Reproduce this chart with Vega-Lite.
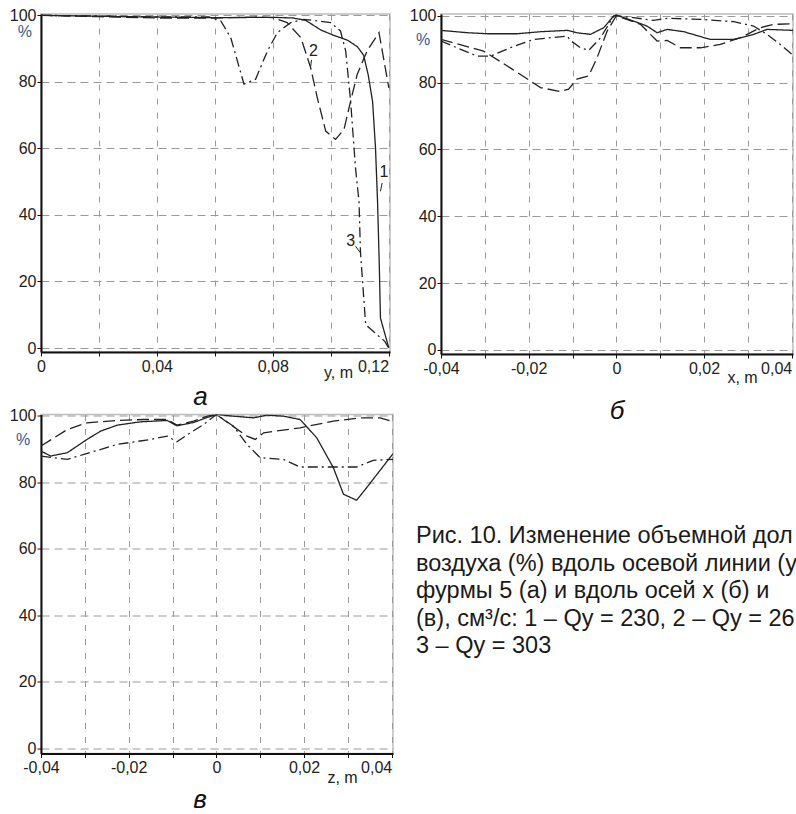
{
 "$schema": "https://vega.github.io/schema/vega-lite/v6.json",
 "padding": {"left": 8, "top": 6, "right": 0, "bottom": 0},
 "background": "white",
 "columns": 2,
 "bounds": "flush",
 "spacing": {"row": 60.5, "column": 48},
 "datasets": {
  "a": [
   {"s":"1","x":0,"v":100},{"s":"1","x":0.02,"v":99.7},{"s":"1","x":0.04,"v":99.5},{"s":"1","x":0.06,"v":99.3},{"s":"1","x":0.08,"v":99.4},{"s":"1","x":0.087,"v":99.2},{"s":"1","x":0.0914,"v":98.5},{"s":"1","x":0.0966,"v":95.6},{"s":"1","x":0.101,"v":94},{"s":"1","x":0.1059,"v":92.5},{"s":"1","x":0.1093,"v":90.5},{"s":"1","x":0.1114,"v":88},{"s":"1","x":0.113,"v":82},{"s":"1","x":0.1145,"v":74},{"s":"1","x":0.1155,"v":60},{"s":"1","x":0.1162,"v":44},{"s":"1","x":0.1168,"v":25},{"s":"1","x":0.1172,"v":9},{"s":"1","x":0.1201,"v":0},
   {"s":"2","x":0,"v":100},{"s":"2","x":0.02,"v":99.6},{"s":"2","x":0.04,"v":99.2},{"s":"2","x":0.06,"v":99.2},{"s":"2","x":0.075,"v":99.5},{"s":"2","x":0.08,"v":99.3},{"s":"2","x":0.085,"v":97.8},{"s":"2","x":0.0897,"v":93.3},{"s":"2","x":0.0931,"v":84.3},{"s":"2","x":0.0954,"v":75.2},{"s":"2","x":0.0983,"v":65.2},{"s":"2","x":0.1017,"v":62.7},{"s":"2","x":0.1046,"v":65.7},{"s":"2","x":0.1069,"v":74.2},{"s":"2","x":0.1092,"v":82.3},{"s":"2","x":0.1126,"v":89.3},{"s":"2","x":0.1167,"v":94.8},{"s":"2","x":0.1201,"v":78.2},
   {"s":"3","x":0,"v":100},{"s":"3","x":0.02,"v":99.8},{"s":"3","x":0.04,"v":99.5},{"s":"3","x":0.058,"v":99.5},{"s":"3","x":0.0621,"v":98.3},{"s":"3","x":0.0655,"v":93.3},{"s":"3","x":0.0678,"v":86.3},{"s":"3","x":0.0701,"v":79.3},{"s":"3","x":0.0741,"v":80.8},{"s":"3","x":0.0782,"v":89.3},{"s":"3","x":0.0816,"v":94.8},{"s":"3","x":0.0862,"v":97.8},{"s":"3","x":0.0908,"v":98.8},{"s":"3","x":0.1,"v":97.8},{"s":"3","x":0.1034,"v":95.3},{"s":"3","x":0.1052,"v":89.3},{"s":"3","x":0.1069,"v":74.2},{"s":"3","x":0.1086,"v":54},{"s":"3","x":0.1098,"v":44},{"s":"3","x":0.1103,"v":29},{"s":"3","x":0.1121,"v":7},{"s":"3","x":0.1155,"v":4.4},{"s":"3","x":0.1187,"v":2},{"s":"3","x":0.1201,"v":0}
  ],
  "aLabels": [
   {"x":0.0941,"v":89.3,"t":"2"},{"x":0.1184,"v":52.9,"t":"1"},{"x":0.1069,"v":32.1,"t":"3"}
  ],
  "aLeaders": [
   {"x":0.0934,"v":86.6,"x2":0.0931,"v2":84.6},{"x":0.1178,"v":49.6,"x2":0.1172,"v2":47.1},{"x":0.1086,"v":30.6,"x2":0.1103,"v2":28.6}
  ],
  "b": [
   {"s":"1","x":-0.04,"v":95.6},{"s":"1","x":-0.034,"v":94.9},{"s":"1","x":-0.0295,"v":94.6},{"s":"1","x":-0.0226,"v":94.6},{"s":"1","x":-0.0173,"v":95.2},{"s":"1","x":-0.0112,"v":95.6},{"s":"1","x":-0.009,"v":94.9},{"s":"1","x":-0.0059,"v":94.4},{"s":"1","x":-0.0029,"v":96.4},{"s":"1","x":-0.0006,"v":99.9},{"s":"1","x":0,"v":100.2},{"s":"1","x":0.0039,"v":98.4},{"s":"1","x":0.007,"v":96.9},{"s":"1","x":0.0093,"v":94.9},{"s":"1","x":0.0116,"v":95.9},{"s":"1","x":0.0154,"v":95.2},{"s":"1","x":0.0214,"v":92.9},{"s":"1","x":0.0268,"v":92.9},{"s":"1","x":0.0313,"v":94.4},{"s":"1","x":0.0344,"v":95.9},{"s":"1","x":0.0403,"v":95.6},
   {"s":"2","x":-0.04,"v":92.9},{"s":"2","x":-0.0303,"v":89.4},{"s":"2","x":-0.0242,"v":84.4},{"s":"2","x":-0.0173,"v":78.5},{"s":"2","x":-0.0128,"v":77.3},{"s":"2","x":-0.0109,"v":78},{"s":"2","x":-0.009,"v":81},{"s":"2","x":-0.0063,"v":82},{"s":"2","x":-0.0044,"v":87.4},{"s":"2","x":-0.0021,"v":95.4},{"s":"2","x":0,"v":100},{"s":"2","x":0.0055,"v":97.4},{"s":"2","x":0.0093,"v":92.4},{"s":"2","x":0.0116,"v":92.6},{"s":"2","x":0.0146,"v":90.4},{"s":"2","x":0.0192,"v":90.4},{"s":"2","x":0.0237,"v":91.4},{"s":"2","x":0.0283,"v":93.4},{"s":"2","x":0.0328,"v":96.4},{"s":"2","x":0.0359,"v":97.4},{"s":"2","x":0.0403,"v":97.6},
   {"s":"3","x":-0.04,"v":92.4},{"s":"3","x":-0.0318,"v":87.9},{"s":"3","x":-0.0287,"v":87.9},{"s":"3","x":-0.0242,"v":90.4},{"s":"3","x":-0.0189,"v":92.9},{"s":"3","x":-0.0112,"v":93.9},{"s":"3","x":-0.0105,"v":92.6},{"s":"3","x":-0.0082,"v":90.4},{"s":"3","x":-0.0063,"v":89.6},{"s":"3","x":-0.0036,"v":93.4},{"s":"3","x":-0.0006,"v":99.9},{"s":"3","x":0,"v":100},{"s":"3","x":0.0039,"v":99.4},{"s":"3","x":0.0085,"v":98.6},{"s":"3","x":0.0116,"v":99.2},{"s":"3","x":0.0192,"v":98.9},{"s":"3","x":0.0268,"v":98.2},{"s":"3","x":0.0313,"v":96.9},{"s":"3","x":0.0344,"v":94.4},{"s":"3","x":0.0374,"v":91.4},{"s":"3","x":0.0403,"v":88.2}
  ],
  "c": [
   {"s":"1","x":-0.04,"v":89.4},{"s":"1","x":-0.0378,"v":87.9},{"s":"1","x":-0.034,"v":88.9},{"s":"1","x":-0.0295,"v":92.9},{"s":"1","x":-0.0264,"v":95.4},{"s":"1","x":-0.0226,"v":97.2},{"s":"1","x":-0.0173,"v":98.2},{"s":"1","x":-0.0112,"v":98.6},{"s":"1","x":-0.009,"v":97},{"s":"1","x":-0.0052,"v":98},{"s":"1","x":-0.0021,"v":99.5},{"s":"1","x":0,"v":100.4},{"s":"1","x":0.0039,"v":99.9},{"s":"1","x":0.0085,"v":99.4},{"s":"1","x":0.0115,"v":100.2},{"s":"1","x":0.0153,"v":99.9},{"s":"1","x":0.0191,"v":98.9},{"s":"1","x":0.0229,"v":93.4},{"s":"1","x":0.0267,"v":84.4},{"s":"1","x":0.029,"v":76.4},{"s":"1","x":0.032,"v":74.6},{"s":"1","x":0.0343,"v":78.4},{"s":"1","x":0.0403,"v":88.6},
   {"s":"2","x":-0.04,"v":90.9},{"s":"2","x":-0.034,"v":95.9},{"s":"2","x":-0.0295,"v":97.9},{"s":"2","x":-0.0226,"v":98.6},{"s":"2","x":-0.0166,"v":98.9},{"s":"2","x":-0.0112,"v":98.9},{"s":"2","x":-0.009,"v":97.2},{"s":"2","x":-0.0052,"v":98.4},{"s":"2","x":-0.0021,"v":99.9},{"s":"2","x":0,"v":100.4},{"s":"2","x":0.0032,"v":97.4},{"s":"2","x":0.007,"v":93.9},{"s":"2","x":0.0089,"v":92.9},{"s":"2","x":0.0108,"v":94.9},{"s":"2","x":0.0191,"v":96.4},{"s":"2","x":0.0267,"v":98.4},{"s":"2","x":0.0328,"v":99.4},{"s":"2","x":0.0374,"v":99.4},{"s":"2","x":0.0403,"v":98.2},
   {"s":"3","x":-0.04,"v":87.9},{"s":"3","x":-0.034,"v":86.9},{"s":"3","x":-0.0302,"v":88.4},{"s":"3","x":-0.0226,"v":91.4},{"s":"3","x":-0.015,"v":92.9},{"s":"3","x":-0.0112,"v":93.9},{"s":"3","x":-0.009,"v":92.2},{"s":"3","x":-0.0059,"v":94.9},{"s":"3","x":-0.0029,"v":97.4},{"s":"3","x":0,"v":100.4},{"s":"3","x":0.0039,"v":96.9},{"s":"3","x":0.007,"v":91.4},{"s":"3","x":0.01,"v":87.4},{"s":"3","x":0.0153,"v":86.9},{"s":"3","x":0.0191,"v":84.6},{"s":"3","x":0.0267,"v":84.6},{"s":"3","x":0.032,"v":84.6},{"s":"3","x":0.0358,"v":86.6},{"s":"3","x":0.0403,"v":86.9}
  ],
  "caption": [
   {"line":1,"t":"Рис. 10. Изменение объемной доли"},
   {"line":2,"t":"воздуха (%) вдоль осевой линии (y)"},
   {"line":3,"t":"фурмы 5 (а)  и вдоль осей x (б) и"},
   {"line":4,"t":"(в), см³/с: 1 – Qу = 230, 2 – Qу = 267,"},
   {"line":5,"t":"3 – Qу = 303"}
  ]
 },
 "concat": [
  {
   "width": 349, "height": 338,
   "title": {"text": "а", "orient": "bottom", "dx": -15, "offset": 4},
   "layer": [
    {
     "data": {"name": "a"},
     "mark": {"type": "line", "color": "#222", "strokeWidth": 1.3, "clip": true},
     "encoding": {
      "x": {"field": "x", "type": "quantitative", "scale": {"domain": [0, 0.1205], "nice": false, "zero": false},
            "axis": {"values": [0, 0.02, 0.04, 0.06, 0.08, 0.1, 0.12],
                     "labelExpr": "round(datum.value*100) % 4 == 0 ? replace(format(datum.value, '.2~f'), '.', ',') : ''",
                     "labelAlign": {"condition": {"test": "datum.value > 0.11", "value": "right"}, "value": "center"},
                     "title": "y, m", "titleX": 297, "titleY": 20, "titleAlign": "center", "titleBaseline": "middle"}},
      "y": {"field": "v", "type": "quantitative", "scale": {"domain": [-1.2, 100.4], "nice": false, "zero": false},
            "axis": {"values": [0, 20, 40, 60, 80, 100], "title": "%", "titleAngle": 0, "titleX": -16.7, "titleY": 17,
                     "titleAlign": "center", "titleBaseline": "middle", "titleColor": "#3b5a8c"}},
      "strokeDash": {"field": "s", "type": "nominal", "scale": {"domain": ["1", "2", "3"], "range": [[1, 0], [12, 5], [10, 4, 2, 4]]}, "legend": null}
     }
    },
    {
     "data": {"name": "aLabels"},
     "mark": {"type": "text", "font": "Liberation Sans", "fontSize": 16, "color": "#222"},
     "encoding": {
      "x": {"field": "x", "type": "quantitative"},
      "y": {"field": "v", "type": "quantitative"},
      "text": {"field": "t"}
     }
    },
    {
     "data": {"name": "aLeaders"},
     "mark": {"type": "rule", "color": "#222", "strokeWidth": 1},
     "encoding": {
      "x": {"field": "x", "type": "quantitative"},
      "y": {"field": "v", "type": "quantitative"},
      "x2": {"field": "x2"},
      "y2": {"field": "v2"}
     }
    }
   ]
  },
  {
   "width": 352, "height": 340,
   "title": {"text": "б", "orient": "bottom", "offset": 13},
   "data": {"name": "b"},
   "mark": {"type": "line", "color": "#222", "strokeWidth": 1.3, "clip": true},
   "encoding": {
    "x": {"field": "x", "type": "quantitative", "scale": {"domain": [-0.04, 0.0403], "nice": false, "zero": false},
          "axis": {"values": [-0.04, -0.03, -0.02, -0.01, 0, 0.01, 0.02, 0.03, 0.04],
                   "labelExpr": "round(datum.value*100) % 2 == 0 ? replace(replace(format(datum.value, '.2~f'), '.', ','), '\u2212', '-') : ''",
                   "labelAlign": {"condition": {"test": "datum.value > 0.035", "value": "right"}, "value": "center"},
                   "title": "x, m", "titleX": 301, "titleY": 23, "titleAlign": "center", "titleBaseline": "middle"}},
    "y": {"field": "v", "type": "quantitative", "scale": {"domain": [-1.2, 100.5], "nice": false, "zero": false},
          "axis": {"values": [0, 20, 40, 60, 80, 100], "title": "%", "titleAngle": 0, "titleX": -18.5, "titleY": 25,
                   "titleAlign": "center", "titleBaseline": "middle", "titleColor": "#3b5a8c"}},
    "strokeDash": {"field": "s", "type": "nominal", "scale": {"domain": ["1", "2", "3"], "range": [[1, 0], [12, 5], [10, 4, 2, 4]]}, "legend": null}
   }
  },
  {
   "width": 352, "height": 339,
   "title": {"text": "в", "orient": "bottom", "dx": -17, "offset": 2},
   "data": {"name": "c"},
   "mark": {"type": "line", "color": "#222", "strokeWidth": 1.3, "clip": true},
   "encoding": {
    "x": {"field": "x", "type": "quantitative", "scale": {"domain": [-0.04, 0.0403], "nice": false, "zero": false},
          "axis": {"values": [-0.04, -0.03, -0.02, -0.01, 0, 0.01, 0.02, 0.03, 0.04],
                   "labelExpr": "round(datum.value*100) % 2 == 0 ? replace(replace(format(datum.value, '.2~f'), '.', ','), '\u2212', '-') : ''",
                   "labelAlign": {"condition": {"test": "datum.value > 0.035", "value": "right"}, "value": "center"},
                   "title": "z, m", "titleX": 301, "titleY": 23.5, "titleAlign": "center", "titleBaseline": "middle"}},
    "y": {"field": "v", "type": "quantitative", "scale": {"domain": [-1.6, 100.4], "nice": false, "zero": false},
          "axis": {"values": [0, 20, 40, 60, 80, 100], "title": "%", "titleAngle": 0, "titleX": -18.5, "titleY": 24.5,
                   "titleAlign": "center", "titleBaseline": "middle", "titleColor": "#3b5a8c"}},
    "strokeDash": {"field": "s", "type": "nominal", "scale": {"domain": ["1", "2", "3"], "range": [[1, 0], [12, 5], [10, 4, 2, 4]]}, "legend": null}
   }
  },
  {
   "width": 356, "height": 339,
   "view": {"stroke": null},
   "data": {"name": "caption"},
   "mark": {"type": "text", "align": "left", "baseline": "middle", "font": "Liberation Sans", "fontSize": 23.5, "limit": 381, "ellipsis": "\u200b", "color": "#1a1a1a"},
   "encoding": {
    "x": {"datum": 0, "type": "quantitative", "scale": {"domain": [0.0656, 1], "nice": false, "zero": false}, "axis": null},
    "y": {"field": "line", "type": "quantitative", "scale": {"domain": [-3.436, 8.891], "nice": false, "zero": false, "reverse": true}, "axis": null},
    "text": {"field": "t"}
   }
  }
 ],
 "config": {
  "view": {"stroke": "#bdbdbd", "strokeWidth": 1.5},
  "axis": {"domainColor": "#111", "domainWidth": 2, "tickColor": "#111", "tickSize": 4, "labelFont": "Liberation Sans", "labelFontSize": 16, "labelColor": "#222",
           "gridColor": "#9a9a9a", "gridWidth": 1, "titleFont": "Liberation Sans", "titleFontSize": 16, "titleFontWeight": "normal", "titleColor": "#222", "labelOverlap": false},
  "axisX": {"gridDash": [6, 8], "labelPadding": 2},
  "axisY": {"gridDash": [8, 5], "labelPadding": 1},
  "title": {"font": "Liberation Sans", "fontSize": 26, "fontStyle": "italic", "fontWeight": "normal", "color": "#111", "anchor": "middle"}
 }
}
